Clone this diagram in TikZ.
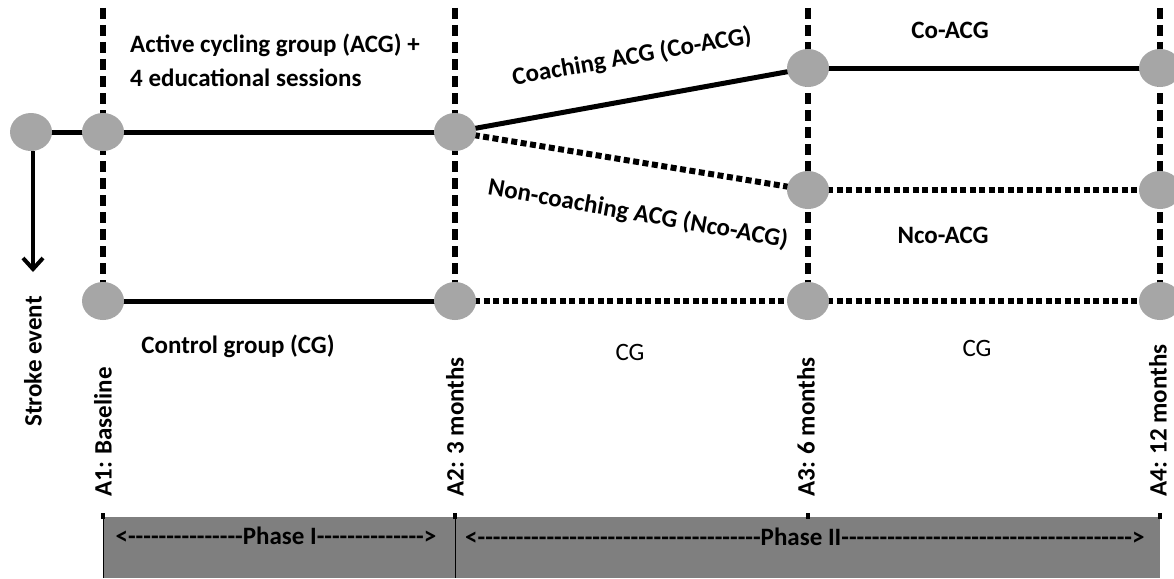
\documentclass[tikz,border=0pt]{standalone}
\usepackage{fontspec}
\setmainfont{Carlito}
\newfontfamily\phasefont{Carlito}[Ligatures=TeXOff]
\usetikzlibrary{arrows.meta,shapes.geometric}
\definecolor{dotgray}{RGB}{166,166,166}
\definecolor{bargray}{RGB}{127,127,127}
\pgfdeclarelayer{bg}
\pgfsetlayers{bg,main}
\begin{document}
\begin{tikzpicture}[x=1pt,y=-1pt,
  dot/.style={ellipse,fill=dotgray,minimum width=42pt,minimum height=38pt,inner sep=0},
  vline/.style={line width=6pt,dash pattern=on 11pt off 6pt},
  solidline/.style={line width=5pt},
  dotline/.style={line width=6pt,dash pattern=on 6pt off 3.5pt},
  lbl/.style={font=\fontsize{25}{33}\selectfont\bfseries,inner sep=0},
  thinlbl/.style={font=\fontsize{25}{30}\selectfont,inner sep=0},
  vlbl/.style={lbl,rotate=90,anchor=west},
  phaselbl/.style={font=\phasefont\fontsize{25}{30}\selectfont\bfseries,inner sep=0},
  tick/.style={line width=4pt},
]
\clip (0,0) rectangle (1174,578);
% circles
\node[dot] (s) at (31,132) {};
\node[dot] (a1t) at (103,132) {};
\node[dot] (a1b) at (103,301) {};
\node[dot] (a2t) at (455,132) {};
\node[dot] (a2b) at (455,301) {};
\node[dot] (a3c) at (808,68) {};
\node[dot] (a3n) at (808,190) {};
\node[dot] (a3g) at (808,301) {};
\node[dot] (a4c) at (1160,68) {};
\node[dot] (a4n) at (1160,190) {};
\node[dot] (a4g) at (1160,301) {};
% top ends of vertical lines
\coordinate (t1) at (103,8);
\coordinate (t2) at (455,8);
\coordinate (t3) at (808,8);
\coordinate (t4) at (1160,8);
\coordinate (se) at (33,272);
\begin{pgfonlayer}{bg}
\fill[white] (0,0) rectangle (1174,578);
\draw[vline] (t1) -- (a1b.center);
\draw[vline] (t2) -- (a2b.center);
\draw[vline] (t3) -- (a3g.center);
\draw[vline] (t4) -- (a4g.center);
\draw[solidline] (s.center) -- (a1t.center) -- (a2t.center);
\draw[solidline] (a1b.center) -- (a2b.center);
\draw[solidline] (a2t.center) -- (a3c.center);
\draw[solidline] (a3c.center) -- (a4c.center);
\draw[dotline] (a2t.center) -- (a3n.center);
\draw[dotline] (a3n.center) -- (a4n.center);
\draw[dotline] (a2b.center) -- (a3g.center);
\draw[dotline] (a3g.center) -- (a4g.center);
\end{pgfonlayer}
% stroke arrow
\draw[line width=4pt,-{Straight Barb[length=11pt,width=20pt]}] (s.south -| se) -- (se);
% texts
\node[lbl,anchor=west] (t_acg1) at (130,45) {Active cycling group (ACG) +};
\node[lbl,anchor=west] (t_acg2) at (130,78) {4 educational sessions};
\node[lbl] (t_cg1) at (238,346) {Control group (CG)};
\node[lbl,rotate=10] (t_co) at (632,57) {Coaching ACG (Co-ACG)};
\node[lbl,rotate=-10] (t_nco) at (638,214) {Non-coaching ACG (Nco-ACG)};
\node[lbl] (t_co2) at (950,30) {Co-ACG};
\node[lbl] (t_nco2) at (943,235) {Nco-ACG};
\node[thinlbl] (t_cg2) at (630,352) {CG};
\node[thinlbl] (t_cg3) at (977,348) {CG};
\node[vlbl] (l_stroke) at (33,427) {Stroke event};
\node[vlbl] (l_a1) at (103,497) {A1: Baseline};
\node[vlbl] (l_a2) at (455,497) {A2: 3 months};
\node[vlbl] (l_a3) at (806,497) {A3: 6 months};
\node[vlbl] (l_a4) at (1158,497) {A4: 12 months};
% phase bar
\fill[bargray] (103,517) rectangle (1160,578);
\draw[line width=0.8pt] (103,517) -- (103,578);
\draw[line width=0.8pt] (455,517) -- (455,578);
\draw[tick] (103,513) -- (103,519);
\draw[tick] (455,513) -- (455,519);
\draw[tick] (808,513) -- (808,519);
\draw[tick] (1160,513) -- (1160,519);
\node[phaselbl] (p1) at (276,536) {<---------------Phase I-------------->};
\node[phaselbl] (p2) at (805,537) {<-------------------------------------Phase II-------------------------------------->};
\end{tikzpicture}
\end{document}
